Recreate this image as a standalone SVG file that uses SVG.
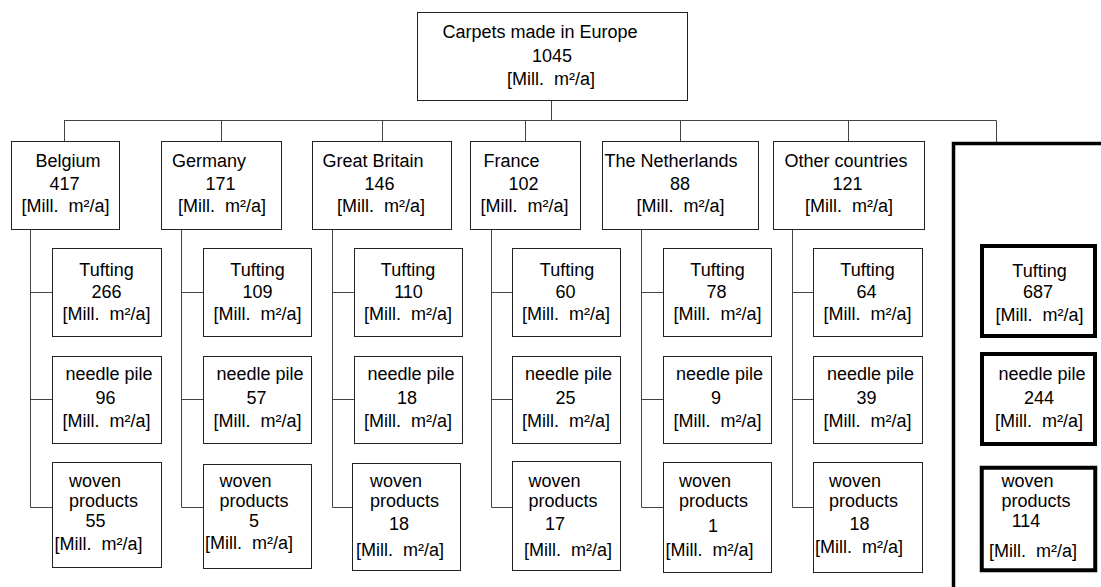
<svg xmlns="http://www.w3.org/2000/svg" width="1101" height="587" viewBox="0 0 1101 587">
  <style>
    .box { fill: #ffffff; stroke: #222222; stroke-width: 1; }
    .bold { fill: #ffffff; stroke: #000000; stroke-width: 4; }
    .wire { fill: none; stroke: #444444; stroke-width: 1; }
    text { font-family: "Liberation Sans", Arial, sans-serif; font-size: 18px; fill: #000000; white-space: pre; }
    .c { text-anchor: middle; }
  </style>

  <!-- connectors -->
  <g id="connectors">
    <path class="wire" d="M551.5,100 V120.5 M64,120.5 H996.5 M64.5,120.5 V141 M221.5,120.5 V141 M382.5,120.5 V141 M525.5,120.5 V141 M680.5,120.5 V141 M848.5,120.5 V141 M996.5,120.5 V143"/>
    <path class="wire" d="M30.5,229 V507.5 H52 M30.5,292.5 H52 M30.5,399.5 H52"/>
    <path class="wire" d="M181.5,229 V507.5 H203 M181.5,292.5 H203 M181.5,399.5 H203"/>
    <path class="wire" d="M332.5,229 V507.5 H352 M332.5,292.5 H354 M332.5,399.5 H354"/>
    <path class="wire" d="M491.5,229 V507.5 H512 M491.5,292.5 H512 M491.5,399.5 H512"/>
    <path class="wire" d="M641.5,229 V507.5 H663 M641.5,292.5 H663 M641.5,399.5 H663"/>
    <path class="wire" d="M792.5,229 V507.5 H813 M792.5,292.5 H813 M792.5,399.5 H813"/>
  </g>

  <!-- total -->
  <g id="europe">
    <rect class="box" x="417.5" y="12.5" width="270" height="88"/>
    <text class="c" x="540" y="38">Carpets made in Europe</text>
    <text class="c" x="552" y="62">1045</text>
    <text class="c" x="551" y="85">[Mill.&#160; m²/a]</text>
  </g>

  <!-- countries -->
  <g id="belgium">
    <rect class="box" x="11.5" y="141.5" width="108" height="88"/>
    <text class="c" x="68" y="167">Belgium</text>
    <text class="c" x="64.5" y="189.5">417</text>
    <text class="c" x="65.5" y="212">[Mill.&#160; m²/a]</text>
  </g>
  <g id="germany">
    <rect class="box" x="161.5" y="141.5" width="120" height="88"/>
    <text class="c" x="209" y="167">Germany</text>
    <text class="c" x="220.5" y="189.5">171</text>
    <text class="c" x="222" y="212">[Mill.&#160; m²/a]</text>
  </g>
  <g id="great-britain">
    <rect class="box" x="312.5" y="141.5" width="139" height="88"/>
    <text class="c" x="373" y="167">Great Britain</text>
    <text class="c" x="379.5" y="189.5">146</text>
    <text class="c" x="381" y="212">[Mill.&#160; m²/a]</text>
  </g>
  <g id="france">
    <rect class="box" x="470.5" y="141.5" width="110" height="88"/>
    <text class="c" x="511.5" y="167">France</text>
    <text class="c" x="523.5" y="189.5">102</text>
    <text class="c" x="524.5" y="212">[Mill.&#160; m²/a]</text>
  </g>
  <g id="netherlands">
    <rect class="box" x="602.5" y="141.5" width="156" height="88"/>
    <text class="c" x="671" y="167">The Netherlands</text>
    <text class="c" x="680" y="189.5">88</text>
    <text class="c" x="680.5" y="212">[Mill.&#160; m²/a]</text>
  </g>
  <g id="other-countries">
    <rect class="box" x="773.5" y="141.5" width="151" height="88"/>
    <text class="c" x="846" y="167">Other countries</text>
    <text class="c" x="847.5" y="189.5">121</text>
    <text class="c" x="849" y="212">[Mill.&#160; m²/a]</text>
  </g>

  <!-- Belgium breakdown -->
  <g id="belgium-tufting">
    <rect class="box" x="52.5" y="248.5" width="109" height="88"/>
    <text class="c" x="106.5" y="276">Tufting</text>
    <text class="c" x="106.5" y="298">266</text>
    <text class="c" x="106.5" y="320">[Mill.&#160; m²/a]</text>
  </g>
  <g id="belgium-needle">
    <rect class="box" x="52.5" y="356.5" width="109" height="87"/>
    <text class="c" x="109" y="380">needle pile</text>
    <text class="c" x="105.5" y="404">96</text>
    <text class="c" x="106.5" y="427">[Mill.&#160; m²/a]</text>
  </g>
  <g id="belgium-woven">
    <rect class="box" x="52.5" y="462.5" width="109" height="105"/>
    <text x="69" y="487">woven</text>
    <text x="69" y="507">products</text>
    <text class="c" x="95.5" y="527">55</text>
    <text class="c" x="98.5" y="550">[Mill.&#160; m²/a]</text>
  </g>

  <!-- Germany breakdown -->
  <g id="germany-tufting">
    <rect class="box" x="203.5" y="248.5" width="108" height="88"/>
    <text class="c" x="257.5" y="276">Tufting</text>
    <text class="c" x="257.5" y="298">109</text>
    <text class="c" x="257.5" y="320">[Mill.&#160; m²/a]</text>
  </g>
  <g id="germany-needle">
    <rect class="box" x="203.5" y="356.5" width="108" height="87"/>
    <text class="c" x="260" y="380">needle pile</text>
    <text class="c" x="256.5" y="404">57</text>
    <text class="c" x="257.5" y="427">[Mill.&#160; m²/a]</text>
  </g>
  <g id="germany-woven">
    <rect class="box" x="203.5" y="464.5" width="108" height="104"/>
    <text x="219.5" y="487">woven</text>
    <text x="219.5" y="507">products</text>
    <text class="c" x="254" y="527">5</text>
    <text class="c" x="249" y="549">[Mill.&#160; m²/a]</text>
  </g>

  <!-- Great Britain breakdown -->
  <g id="great-britain-tufting">
    <rect class="box" x="354.5" y="248.5" width="108" height="88"/>
    <text class="c" x="408" y="276">Tufting</text>
    <text class="c" x="408.5" y="298">110</text>
    <text class="c" x="408" y="320">[Mill.&#160; m²/a]</text>
  </g>
  <g id="great-britain-needle">
    <rect class="box" x="354.5" y="356.5" width="108" height="87"/>
    <text class="c" x="411" y="380">needle pile</text>
    <text class="c" x="407" y="404">18</text>
    <text class="c" x="408" y="427">[Mill.&#160; m²/a]</text>
  </g>
  <g id="great-britain-woven">
    <rect class="box" x="352.5" y="463.5" width="108" height="107"/>
    <text x="370" y="487">woven</text>
    <text x="370" y="507">products</text>
    <text class="c" x="399" y="530">18</text>
    <text class="c" x="400" y="556">[Mill.&#160; m²/a]</text>
  </g>

  <!-- France breakdown -->
  <g id="france-tufting">
    <rect class="box" x="512.5" y="248.5" width="108" height="88"/>
    <text class="c" x="567" y="276">Tufting</text>
    <text class="c" x="565.5" y="298">60</text>
    <text class="c" x="566" y="320">[Mill.&#160; m²/a]</text>
  </g>
  <g id="france-needle">
    <rect class="box" x="512.5" y="356.5" width="108" height="87"/>
    <text class="c" x="568.5" y="380">needle pile</text>
    <text class="c" x="565.5" y="404">25</text>
    <text class="c" x="566" y="427">[Mill.&#160; m²/a]</text>
  </g>
  <g id="france-woven">
    <rect class="box" x="512.5" y="461.5" width="108" height="109"/>
    <text x="528.5" y="487">woven</text>
    <text x="528.5" y="507">products</text>
    <text class="c" x="555" y="530">17</text>
    <text class="c" x="568" y="556">[Mill.&#160; m²/a]</text>
  </g>

  <!-- Netherlands breakdown -->
  <g id="netherlands-tufting">
    <rect class="box" x="663.5" y="248.5" width="108" height="88"/>
    <text class="c" x="717.5" y="276">Tufting</text>
    <text class="c" x="716.5" y="298">78</text>
    <text class="c" x="717.5" y="320">[Mill.&#160; m²/a]</text>
  </g>
  <g id="netherlands-needle">
    <rect class="box" x="663.5" y="356.5" width="108" height="87"/>
    <text class="c" x="719.5" y="380">needle pile</text>
    <text class="c" x="716" y="404">9</text>
    <text class="c" x="717.5" y="427">[Mill.&#160; m²/a]</text>
  </g>
  <g id="netherlands-woven">
    <rect class="box" x="663.5" y="462.5" width="108" height="110"/>
    <text x="679" y="487">woven</text>
    <text x="679" y="507">products</text>
    <text class="c" x="713" y="532">1</text>
    <text class="c" x="709.5" y="556">[Mill.&#160; m²/a]</text>
  </g>

  <!-- Other countries breakdown -->
  <g id="other-tufting">
    <rect class="box" x="813.5" y="248.5" width="109" height="88"/>
    <text class="c" x="867.5" y="276">Tufting</text>
    <text class="c" x="866.5" y="298">64</text>
    <text class="c" x="867.5" y="320">[Mill.&#160; m²/a]</text>
  </g>
  <g id="other-needle">
    <rect class="box" x="813.5" y="356.5" width="109" height="87"/>
    <text class="c" x="870.5" y="380">needle pile</text>
    <text class="c" x="866.5" y="404">39</text>
    <text class="c" x="867.5" y="427">[Mill.&#160; m²/a]</text>
  </g>
  <g id="other-woven">
    <rect class="box" x="813.5" y="462.5" width="109" height="110"/>
    <text x="829" y="487">woven</text>
    <text x="829" y="507">products</text>
    <text class="c" x="859.5" y="530">18</text>
    <text class="c" x="859" y="553">[Mill.&#160; m²/a]</text>
  </g>

  <!-- Europe totals by product, in a heavy frame open to the right and bottom -->
  <g id="totals-frame">
    <path d="M953.5,590 V143.5 H1105" fill="none" stroke="#000000" stroke-width="3.5"/>
  </g>
  <g id="total-tufting">
    <rect class="bold" x="982" y="246" width="113" height="90"/>
    <text class="c" x="1039.5" y="277">Tufting</text>
    <text class="c" x="1038" y="298">687</text>
    <text class="c" x="1039.5" y="321">[Mill.&#160; m²/a]</text>
  </g>
  <g id="total-needle">
    <rect class="bold" x="982" y="354" width="113" height="90"/>
    <text class="c" x="1042" y="380">needle pile</text>
    <text class="c" x="1039" y="404">244</text>
    <text class="c" x="1039" y="427">[Mill.&#160; m²/a]</text>
  </g>
  <g id="total-woven">
    <rect class="bold" x="981.75" y="467.75" width="113.5" height="102.5" stroke-width="3.5"/>
    <text x="1001.5" y="487">woven</text>
    <text x="1001.5" y="507">products</text>
    <text class="c" x="1026" y="527">114</text>
    <text class="c" x="1033" y="557">[Mill.&#160; m²/a]</text>
  </g>
</svg>
